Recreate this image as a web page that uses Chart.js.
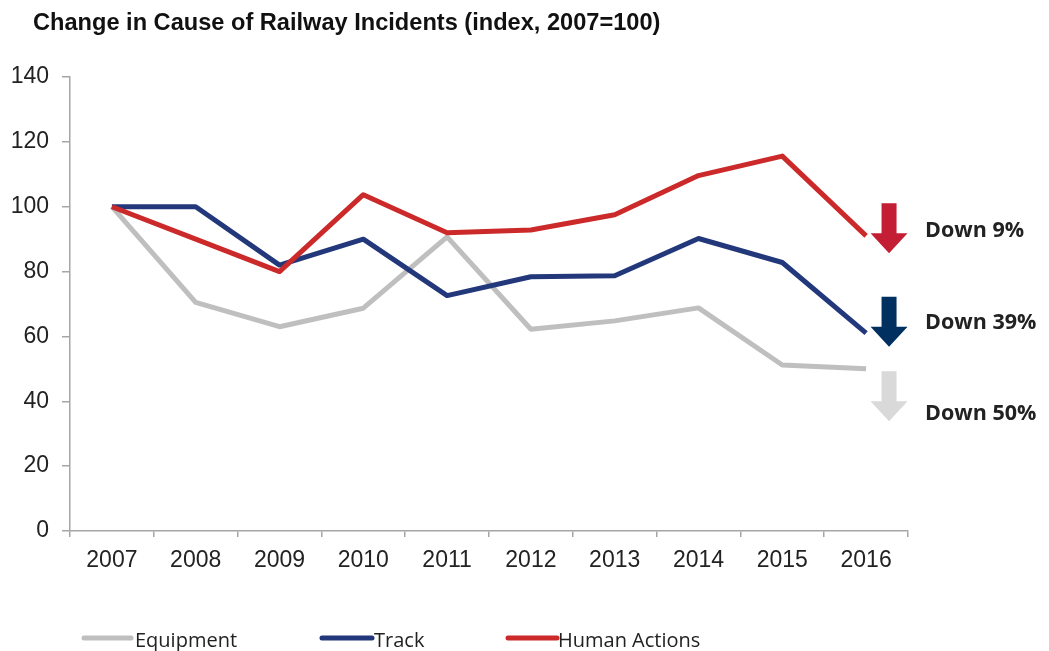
<!DOCTYPE html>
<html>
<head>
<meta charset="utf-8">
<title>Change in Cause of Railway Incidents</title>
<script src="https://cdn.jsdelivr.net/npm/chart.js@4.4.1/dist/chart.umd.min.js"></script>
<style>
  html, body { margin: 0; padding: 0; background: #fff; }
  #wrap { width: 1049px; height: 651px; }
</style>
</head>
<body>
<div id="wrap"><canvas id="railChart" width="1049" height="651"></canvas></div>
<script>
'use strict';

const years = ['2007', '2008', '2009', '2010', '2011', '2012', '2013', '2014', '2015', '2016'];
const equipment = [100, 70.5, 63, 68.7, 90.7, 62.2, 64.8, 68.8, 51.2, 50];
const track = [100, 100, 82, 90, 72.6, 78.4, 78.7, 90.2, 82.8, 61];
const humanActions = [100, 90, 80, 103.7, 92, 92.8, 97.5, 109.6, 115.6, 91];
const yTicks = [0, 20, 40, 60, 80, 100, 120, 140];

const TITLE = 'Change in Cause of Railway Incidents (index, 2007=100)';
const AXIS = '#a6a6a6';
const INK = '#222';

// arrows + "Down x%" notes on the right; top / baseline are in index units
const callouts = [
  { ds: 2, top: 101.1, base: 90.8, color: '#c41e35' },
  { ds: 1, top: 72.2, base: 62.3, color: '#00305f' },
  { ds: 0, top: 49.3, base: 34.2, color: '#d9d9d9' },
];

// legend swatches: x of line start, line end, text start
const legendSlots = [
  { x0: 84, x1: 131, tx: 135 },
  { x0: 322, x1: 372, tx: 374 },
  { x0: 508, x1: 557, tx: 558 },
];

const extras = {
  id: 'extras',
  afterDraw(chart) {
    const ctx = chart.ctx;
    const y = chart.scales.y;
    const x = chart.scales.x;
    ctx.save();

    ctx.fillStyle = '#111';
    ctx.font = 'bold 23.6px "Liberation Sans", Arial, sans-serif';
    ctx.textBaseline = 'alphabetic';
    ctx.textAlign = 'left';
    ctx.fillText(TITLE, 33, 30);

    const last = years.length - 1;
    const ax = (x.getPixelForValue(last) + chart.chartArea.right) / 2 + 2;
    callouts.forEach((c) => {
      const ds = chart.data.datasets[c.ds];
      const top = y.getPixelForValue(c.top);
      const h = 50, head = 20, shaft = 7.5, wing = 18.5;
      ctx.beginPath();
      ctx.moveTo(ax - shaft, top);
      ctx.lineTo(ax + shaft, top);
      ctx.lineTo(ax + shaft, top + h - head);
      ctx.lineTo(ax + wing, top + h - head);
      ctx.lineTo(ax, top + h);
      ctx.lineTo(ax - wing, top + h - head);
      ctx.lineTo(ax - shaft, top + h - head);
      ctx.closePath();
      ctx.fillStyle = c.color;
      ctx.fill();

      const drop = Math.round(ds.data[0] - ds.data[last]);
      ctx.fillStyle = INK;
      ctx.font = 'bold 21.5px "Open Sans", sans-serif';
      ctx.fillText('Down ' + drop + '%', ax + 36, y.getPixelForValue(c.base));
    });

    ctx.font = '20px "Open Sans", sans-serif';
    chart.data.datasets.forEach((ds, i) => {
      const s = legendSlots[i];
      ctx.beginPath();
      ctx.moveTo(s.x0, 638);
      ctx.lineTo(s.x1, 638);
      ctx.lineWidth = 5;
      ctx.lineCap = 'round';
      ctx.strokeStyle = ds.borderColor;
      ctx.stroke();
      ctx.fillStyle = INK;
      ctx.fillText(ds.label, s.tx, 647);
    });
    ctx.restore();
  },
};

const tickFont = { family: '"Liberation Sans", Arial, sans-serif', size: 23 };

new Chart(document.getElementById('railChart'), {
  type: 'line',
  data: {
    labels: years,
    datasets: [
      { label: 'Equipment', data: equipment, borderColor: '#bfbfbf', order: 3 },
      { label: 'Track', data: track, borderColor: '#22387a', order: 2 },
      { label: 'Human Actions', data: humanActions, borderColor: '#cc2a2a', order: 1 },
    ],
  },
  options: {
    responsive: false,
    devicePixelRatio: 1,
    animation: false,
    layout: { padding: { top: 77, right: 141, bottom: 80, left: 0 } },
    elements: {
      line: { borderWidth: 5, tension: 0, borderJoinStyle: 'round', fill: false },
      point: { radius: 0, hoverRadius: 0 },
    },
    plugins: { legend: { display: false }, title: { display: false }, tooltip: { enabled: false } },
    scales: {
      x: {
        offset: true,
        grid: { offset: true, drawOnChartArea: false, drawTicks: true, tickLength: 6, color: AXIS, lineWidth: 1.5 },
        border: { display: true, color: AXIS, width: 1.5 },
        ticks: { color: INK, font: tickFont, padding: 10, maxRotation: 0 },
        afterFit(s) { s.height = 40; },
      },
      y: {
        min: 0,
        max: 140,
        afterBuildTicks(s) { s.ticks = yTicks.map((v) => ({ value: v })); },
        grid: { drawOnChartArea: false, drawTicks: true, tickLength: 8, color: AXIS, lineWidth: 1.5 },
        border: { display: true, color: AXIS, width: 1.5 },
        ticks: { color: INK, font: tickFont, padding: 13 },
        afterFit(s) { s.width = 70; },
      },
    },
  },
  plugins: [extras],
});
</script>
</body>
</html>
